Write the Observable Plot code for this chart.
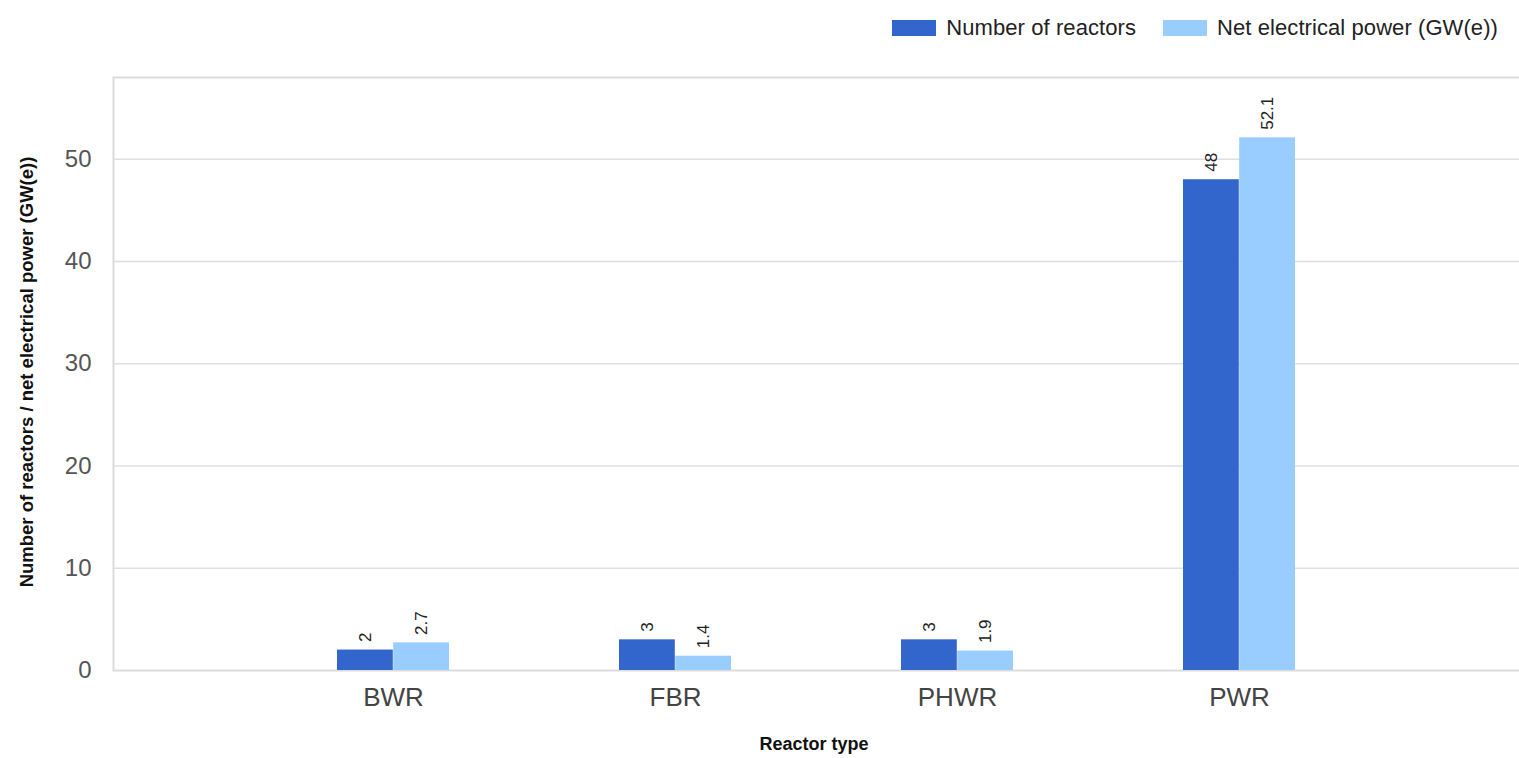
<!DOCTYPE html>
<html>
<head>
<meta charset="utf-8">
<script src="https://cdn.jsdelivr.net/npm/d3@7"></script>
<script src="https://cdn.jsdelivr.net/npm/@observablehq/plot@0.6"></script>
<style>
  html, body { margin: 0; padding: 0; background: #fff; }
  body { width: 1519px; height: 758px; overflow: hidden; font-family: "Liberation Sans", Arial, sans-serif; }
  #legend { height: 55px; display: flex; justify-content: flex-end; align-items: center; padding-right: 21px; box-sizing: border-box; }
  .item { display: flex; align-items: center; margin-left: 27px; font-size: 22px; color: #222; letter-spacing: 0.08px; }
  .sw { width: 44px; height: 16px; margin-right: 10px; }
</style>
</head>
<body>
<div id="legend"></div>
<div id="chart"></div>
<script>
const categories = ["BWR", "FBR", "PHWR", "PWR"];
const reactors = [2, 3, 3, 48];
const power = [2.7, 1.4, 1.9, 52.1];
const seriesNames = ["Number of reactors", "Net electrical power (GW(e))"];
const seriesColors = ["#3366cc", "#99ccff"];
const yTicks = [0, 10, 20, 30, 40, 50];
const xTitle = "Reactor type";
const yTitle = "Number of reactors / net electrical power (GW(e))";

const rows = categories.map((c, i) => ({type: c, reactors: reactors[i], power: power[i]}));

// legend
const legend = document.getElementById("legend");
seriesNames.forEach((name, i) => {
  const it = document.createElement("div");
  it.className = "item";
  const sw = document.createElement("span");
  sw.className = "sw";
  sw.style.background = seriesColors[i];
  const tx = document.createElement("span");
  tx.textContent = name;
  it.appendChild(sw);
  it.appendChild(tx);
  legend.appendChild(it);
});

const half = 56.2;

const chart = Plot.plot({
  width: 1519,
  height: 703,
  marginLeft: 113,
  marginRight: -3,
  marginTop: 22,
  marginBottom: 88,
  style: {fontFamily: "'Liberation Sans', Arial, sans-serif", color: "#4d4d4d", background: "#fff"},
  x: {domain: categories, paddingInner: 0.6017, paddingOuter: 0.797, align: 0.498},
  y: {domain: [0, 58]},
  marks: [
    Plot.ruleY(yTicks.slice(1), {stroke: "#e0e0e0", strokeWidth: 1.5}),
    Plot.frame({stroke: "#dcdcdc", strokeWidth: 2}),
    Plot.barY(rows, {x: "type", y: "reactors", fill: seriesColors[0], insetRight: half}),
    Plot.barY(rows, {x: "type", y: "power", fill: seriesColors[1], insetLeft: half}),
    Plot.text(rows, {x: "type", y: "reactors", text: d => String(d.reactors), dx: -half / 2, dy: -8,
      rotate: -90, textAnchor: "start", lineAnchor: "middle", fontSize: 17, fill: "#222"}),
    Plot.text(rows, {x: "type", y: "power", text: d => String(d.power), dx: half / 2, dy: -8,
      rotate: -90, textAnchor: "start", lineAnchor: "middle", fontSize: 17, fill: "#222"}),
    Plot.axisY({ticks: yTicks, tickSize: 0, tickPadding: 22, fontSize: 24, label: null, fill: "#555"}),
    Plot.axisX({tickSize: 0, tickPadding: 17, fontSize: 26, label: null, fill: "#444"}),
    Plot.text([xTitle], {text: d => d, frameAnchor: "bottom", dy: 79, dx: -4, textAnchor: "middle", fontWeight: "bold", fontSize: 18, fill: "#111"}),
    Plot.text([yTitle], {text: d => d, frameAnchor: "left", rotate: -90, dx: -86, dy: -2, textAnchor: "middle", fontWeight: "bold", fontSize: 18.5, fill: "#111"})
  ]
});
document.getElementById("chart").appendChild(chart);
</script>
</body>
</html>
